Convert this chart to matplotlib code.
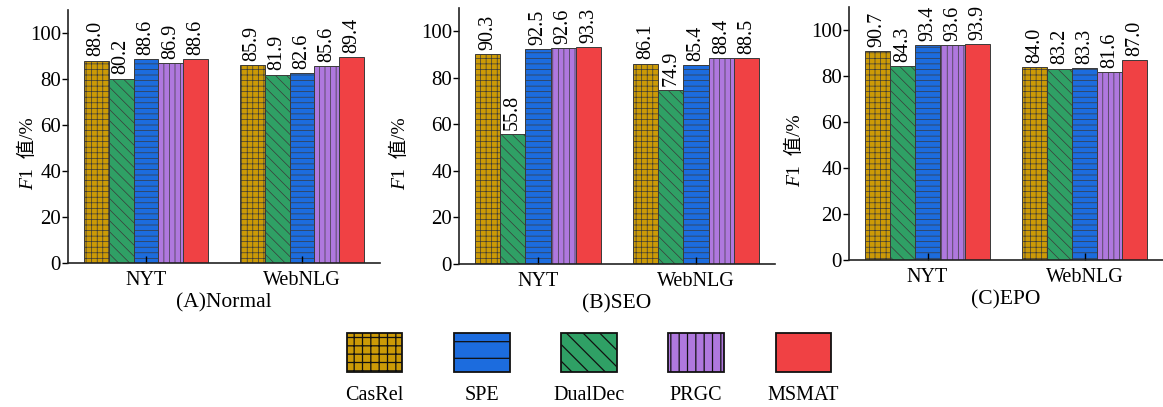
import numpy as np
import matplotlib.pyplot as plt
from matplotlib.patches import Rectangle

plt.rcParams['font.family'] = ['Liberation Serif', 'Noto Sans CJK SC']

# bar order inside each group
models = ["CasRel", "DualDec", "SPE", "PRGC", "MSMAT"]
datasets = ["NYT", "WebNLG"]
panels = ["(A)Normal", "(B)SEO", "(C)EPO"]

normal_nyt = [88.0, 80.2, 88.6, 86.9, 88.6]
normal_web = [85.9, 81.9, 82.6, 85.6, 89.4]
seo_nyt = [90.3, 55.8, 92.5, 92.6, 93.3]
seo_web = [86.1, 74.9, 85.4, 88.4, 88.5]
epo_nyt = [90.7, 84.3, 93.4, 93.6, 93.9]
epo_web = [84.0, 83.2, 83.3, 81.6, 87.0]

values = [(normal_nyt, normal_web), (seo_nyt, seo_web), (epo_nyt, epo_web)]

colors = {"CasRel": "#CC9A06", "DualDec": "#2FA065", "SPE": "#1C6CDE",
          "PRGC": "#AF78DE", "MSMAT": "#F04144"}
hatch_bar = {"CasRel": "+++", "DualDec": "\\\\\\", "SPE": "---",
             "PRGC": "|||", "MSMAT": ""}
hatch_leg = {"CasRel": "++", "DualDec": "\\\\", "SPE": "-",
             "PRGC": "||", "MSMAT": ""}
legend_order = ["CasRel", "SPE", "DualDec", "PRGC", "MSMAT"]

W, H = 1163, 407
fig = plt.figure(figsize=(W / 100, H / 100), dpi=100)

# axes positions in pixels: left, right, bottom, top
boxes = [(68, 380, 263, 10), (459, 775, 264, 8), (849, 1163, 260, 7)]
# horizontal place of the y label (axes fraction)
ylab_x = [-0.112, -0.171, -0.156]

bw = 0.16
x = np.arange(len(datasets))

for (l, r, b, t), title, (nyt, web), lx in zip(boxes, panels, values, ylab_x):
    ax = fig.add_axes([l / W, 1 - b / H, (r - l) / W, (b - t) / H])
    for i, m in enumerate(models):
        vals = [nyt[i], web[i]]
        pos = x + (i - 2) * bw
        bars = ax.bar(pos, vals, bw, color=colors[m], edgecolor="#3a3a3a",
                      linewidth=0.7, hatch=hatch_bar[m])
        for p in bars:
            if hasattr(p, "set_hatch_linewidth"):
                p.set_hatch_linewidth(0.5)
        for xp, v in zip(pos, vals):
            ax.annotate(f"{v:.1f}", (xp, v), xytext=(0, 3),
                        textcoords="offset points", rotation=90,
                        ha="center", va="bottom", fontsize=14.5)
    ax.set_xlim(-0.5, 1.5)
    ax.set_ylim(0, 110)
    ax.set_yticks([0, 20, 40, 60, 80, 100])
    ax.set_xticks(x)
    ax.set_xticklabels(datasets)
    ax.tick_params(axis="x", direction="in", length=5, width=1.0, pad=6,
                   labelsize=14.5)
    ax.tick_params(axis="y", direction="out", length=4, width=1.0, pad=1,
                   labelsize=15)
    for s in ["top", "right"]:
        ax.spines[s].set_visible(False)
    for s in ["left", "bottom"]:
        ax.spines[s].set_linewidth(1.2)
        ax.spines[s].set_color("#222222")
    ax.text(0.5, -0.157, title, transform=ax.transAxes, ha="center",
            va="center", fontsize=15.5)
    # y label: italic F followed by the rest
    f = ax.text(lx, 0.29, "F", transform=ax.transAxes, rotation=90,
                rotation_mode="anchor", ha="left", va="baseline",
                fontstyle="italic", fontsize=14)
    ax.annotate("1  值/%", xy=(lx, 1.0), xycoords=(ax.transAxes, f),
                rotation=90, rotation_mode="anchor", ha="left",
                va="baseline", fontsize=14)

# legend drawn as a row of boxes with names underneath
lax = fig.add_axes([321 / W, 0, 536 / W, 78 / H])
lax.set_xlim(-0.5, 4.5)
lax.set_ylim(0, 1)
lax.axis("off")
pw = 0.52
for i, m in enumerate(legend_order):
    rect = Rectangle((i - pw / 2, 0.449), pw, 0.5, facecolor=colors[m],
                     edgecolor="#111111", linewidth=1.3, hatch=hatch_leg[m])
    if hasattr(rect, "set_hatch_linewidth"):
        rect.set_hatch_linewidth(0.9)
    lax.add_patch(rect)
    lax.text(i, 0.15, m, ha="center", va="center", fontsize=14.5)

fig.savefig("out.png", dpi=100)
